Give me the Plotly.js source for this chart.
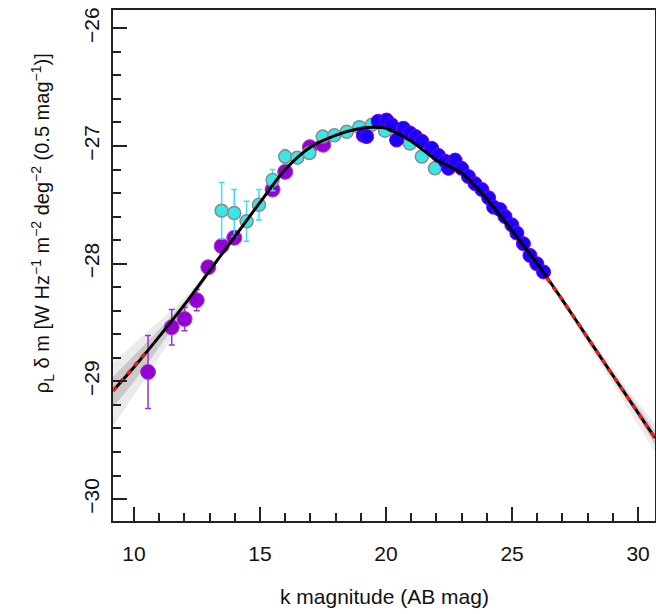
<!DOCTYPE html>
<html>
<head>
<meta charset="utf-8">
<script src="https://cdn.plot.ly/plotly-3.0.1.min.js"></script>
<style>html,body{margin:0;padding:0;background:#fff;}#chart{width:656px;height:614px;}</style>
</head>
<body>
<div id="chart"></div>
<script>
// ---- data ----
const purpleX = [10.56, 11.5, 12.01, 12.49, 12.95, 13.48, 13.98, 15.5, 16.0, 16.98, 17.51];
const purpleY = [-28.92, -28.54, -28.47, -28.31, -28.03, -27.85, -27.78, -27.37, -27.22, -27.01, -26.99];
const purpleErr = [0.31, 0.15, 0.1, 0.09, 0.03, 0.02, 0.02, 0.02, 0, 0, 0];

const cyanX = [13.48, 13.98, 14.47, 14.96, 15.5, 16.0, 16.48, 16.96, 17.49, 17.95, 18.44, 18.94, 19.44, 19.96, 20.45, 20.95, 21.42, 21.94];
const cyanY = [-27.55, -27.57, -27.64, -27.5, -27.29, -27.09, -27.1, -27.06, -26.92, -26.91, -26.88, -26.84, -26.82, -26.87, -26.9, -26.98, -27.09, -27.19];
const cyanErr = [0.24, 0.2, 0.17, 0.13, 0.09, 0.06, 0.03, 0.02, 0, 0, 0, 0, 0, 0, 0, 0, 0, 0];

const blueX = [19.1, 19.23, 19.69, 20.02, 20.22, 20.42, 20.69, 20.95, 21.17, 21.42, 21.81, 22.08, 22.35, 22.48, 22.74, 23.0, 23.27, 23.53, 23.8, 24.07, 24.27, 24.52, 24.72, 24.99, 25.19, 25.45, 25.71, 25.98, 26.25];
const blueY = [-26.91, -26.92, -26.79, -26.78, -26.82, -26.95, -26.85, -26.89, -26.92, -26.96, -27.02, -27.08, -27.13, -27.19, -27.12, -27.19, -27.26, -27.32, -27.37, -27.44, -27.52, -27.54, -27.6, -27.67, -27.74, -27.83, -27.93, -28.0, -28.07];

const fitX = [9.17, 10, 11, 12, 13, 14, 15, 16, 17, 18, 19, 19.5, 20, 21, 22, 22.5, 23, 24, 25, 26, 27, 28, 29, 30.67];
const fitY = [-29.08, -28.88, -28.62, -28.35, -28.06, -27.77, -27.48, -27.2, -27.01, -26.91, -26.85, -26.84, -26.85, -26.96, -27.12, -27.17, -27.23, -27.45, -27.72, -28.0, -28.31, -28.63, -28.95, -29.48];

const extLeftX = [9.17, 9.5, 10, 10.45];
const extLeftY = [-29.08, -29.0, -28.88, -28.76];
const extRightX = [26.37, 27.0, 28.0, 29.0, 30.67];
const extRightY = [-28.12, -28.31, -28.63, -28.95, -29.48];

// uncertainty envelope of the sampled fits
const bandLX = [9.17, 10, 11, 12, 13];
const bandLOuterHi = [-28.84, -28.68, -28.49, -28.29, -28.04];
const bandLOuterLo = [-29.38, -29.12, -28.8, -28.45, -28.08];
const bandLInnerHi = [-28.96, -28.78, -28.56, -28.32, -28.05];
const bandLInnerLo = [-29.22, -29.0, -28.71, -28.41, -28.07];
const bandRX = [26.0, 27.0, 28.0, 29.0, 30.0, 30.67];
const bandROuterHi = [-27.99, -28.29, -28.59, -28.89, -29.18, -29.36];
const bandROuterLo = [-28.01, -28.34, -28.68, -29.02, -29.37, -29.6];
const bandRInnerHi = [-28.0, -28.3, -28.61, -28.92, -29.22, -29.42];
const bandRInnerLo = [-28.0, -28.32, -28.65, -28.98, -29.3, -29.54];

const xTicks = [10, 15, 20, 25, 30];
const yTicks = [-30, -29, -28, -27, -26];

// ---- traces ----
function band(x, hi, lo, color) {
  return [
    {x: x, y: hi, mode: 'lines', line: {width: 0, color: color, shape: 'spline'}, hoverinfo: 'skip', showlegend: false},
    {x: x, y: lo, mode: 'lines', line: {width: 0, color: color, shape: 'spline'}, fill: 'tonexty', fillcolor: color, hoverinfo: 'skip', showlegend: false}
  ];
}
const traces = [].concat(
  band(bandLX, bandLOuterHi, bandLOuterLo, 'rgba(0,0,0,0.08)'),
  band(bandLX, bandLInnerHi, bandLInnerLo, 'rgba(0,0,0,0.14)'),
  band(bandRX, bandROuterHi, bandROuterLo, 'rgba(0,0,0,0.08)'),
  band(bandRX, bandRInnerHi, bandRInnerLo, 'rgba(0,0,0,0.14)'),
  [
    {x: purpleX, y: purpleY, mode: 'markers', type: 'scatter',
     error_y: {type: 'data', array: purpleErr, color: '#9933cc', thickness: 1.5, width: 3},
     marker: {size: 15, color: '#9400d3', line: {color: '#a040d0', width: 1}}, showlegend: false},
    {x: cyanX, y: cyanY, mode: 'markers', type: 'scatter',
     error_y: {type: 'data', array: cyanErr, color: '#44dde8', thickness: 1.5, width: 3},
     marker: {size: 13, color: '#38e8e8', line: {color: '#8a8a8a', width: 1.5}}, showlegend: false},
    {x: blueX, y: blueY, mode: 'markers', type: 'scatter',
     marker: {size: 14, color: '#1a00ff', line: {color: '#7a00dd', width: 1}}, showlegend: false},
    {x: fitX, y: fitY, mode: 'lines', line: {color: '#000', width: 3, shape: 'spline', smoothing: 0.8}, showlegend: false},
    {x: extLeftX, y: extLeftY, mode: 'lines', line: {color: '#e8201a', width: 3.5, dash: '5px,6px'}, showlegend: false},
    {x: extRightX, y: extRightY, mode: 'lines', line: {color: '#e8201a', width: 3.5, dash: '5px,6px', shape: 'spline'}, showlegend: false}
  ]
);

const font = 'Liberation Sans, Arial, Helvetica, sans-serif';
const layout = {
  width: 656, height: 614,
  margin: {l: 113, r: 1, t: 10, b: 93},
  paper_bgcolor: '#fff', plot_bgcolor: '#fff',
  showlegend: false,
  font: {family: font, size: 21, color: '#111'},
  xaxis: {
    range: [9.17, 30.67], showgrid: false, zeroline: false,
    showline: true, mirror: true, linecolor: '#222', linewidth: 2,
    tickvals: xTicks, ticktext: xTicks.map(String),
    ticks: 'inside', ticklen: 14, tickwidth: 2, tickcolor: '#222',
    ticklabelstandoff: 13,
    minor: {dtick: 1, tick0: 0, ticks: 'inside', ticklen: 8, tickwidth: 2, tickcolor: '#222'},
    tickfont: {family: font, size: 21, color: '#111'}
  },
  yaxis: {
    range: [-30.186, -25.845], showgrid: false, zeroline: false,
    showline: true, mirror: true, linecolor: '#222', linewidth: 2,
    tickvals: yTicks,
    ticks: 'inside', ticklen: 14, tickwidth: 2, tickcolor: '#222',
    tickangle: -90, ticklabelstandoff: 4,
    minor: {dtick: 0.2, tick0: 0, ticks: 'inside', ticklen: 8, tickwidth: 2, tickcolor: '#222'},
    tickfont: {family: font, size: 21, color: '#111'}
  },
  annotations: [
    {text: 'k magnitude (AB mag)', xref: 'paper', yref: 'paper', x: 0.5, y: -0.1487,
     xanchor: 'center', yanchor: 'middle', showarrow: false, font: {family: font, size: 21, color: '#111'}},
    {text: 'ρ<sub>L</sub> δ m [W Hz<sup>−1</sup> m<sup>−2</sup> deg<sup>−2</sup> (0.5 mag<sup>−1</sup>)]',
     xref: 'paper', yref: 'paper', x: -0.13, y: 0.582, textangle: -90,
     xanchor: 'center', yanchor: 'middle', showarrow: false, font: {family: font, size: 20, color: '#111'}}
  ]
};
Plotly.newPlot('chart', traces, layout, {staticPlot: true, displayModeBar: false});
</script>
</body>
</html>
